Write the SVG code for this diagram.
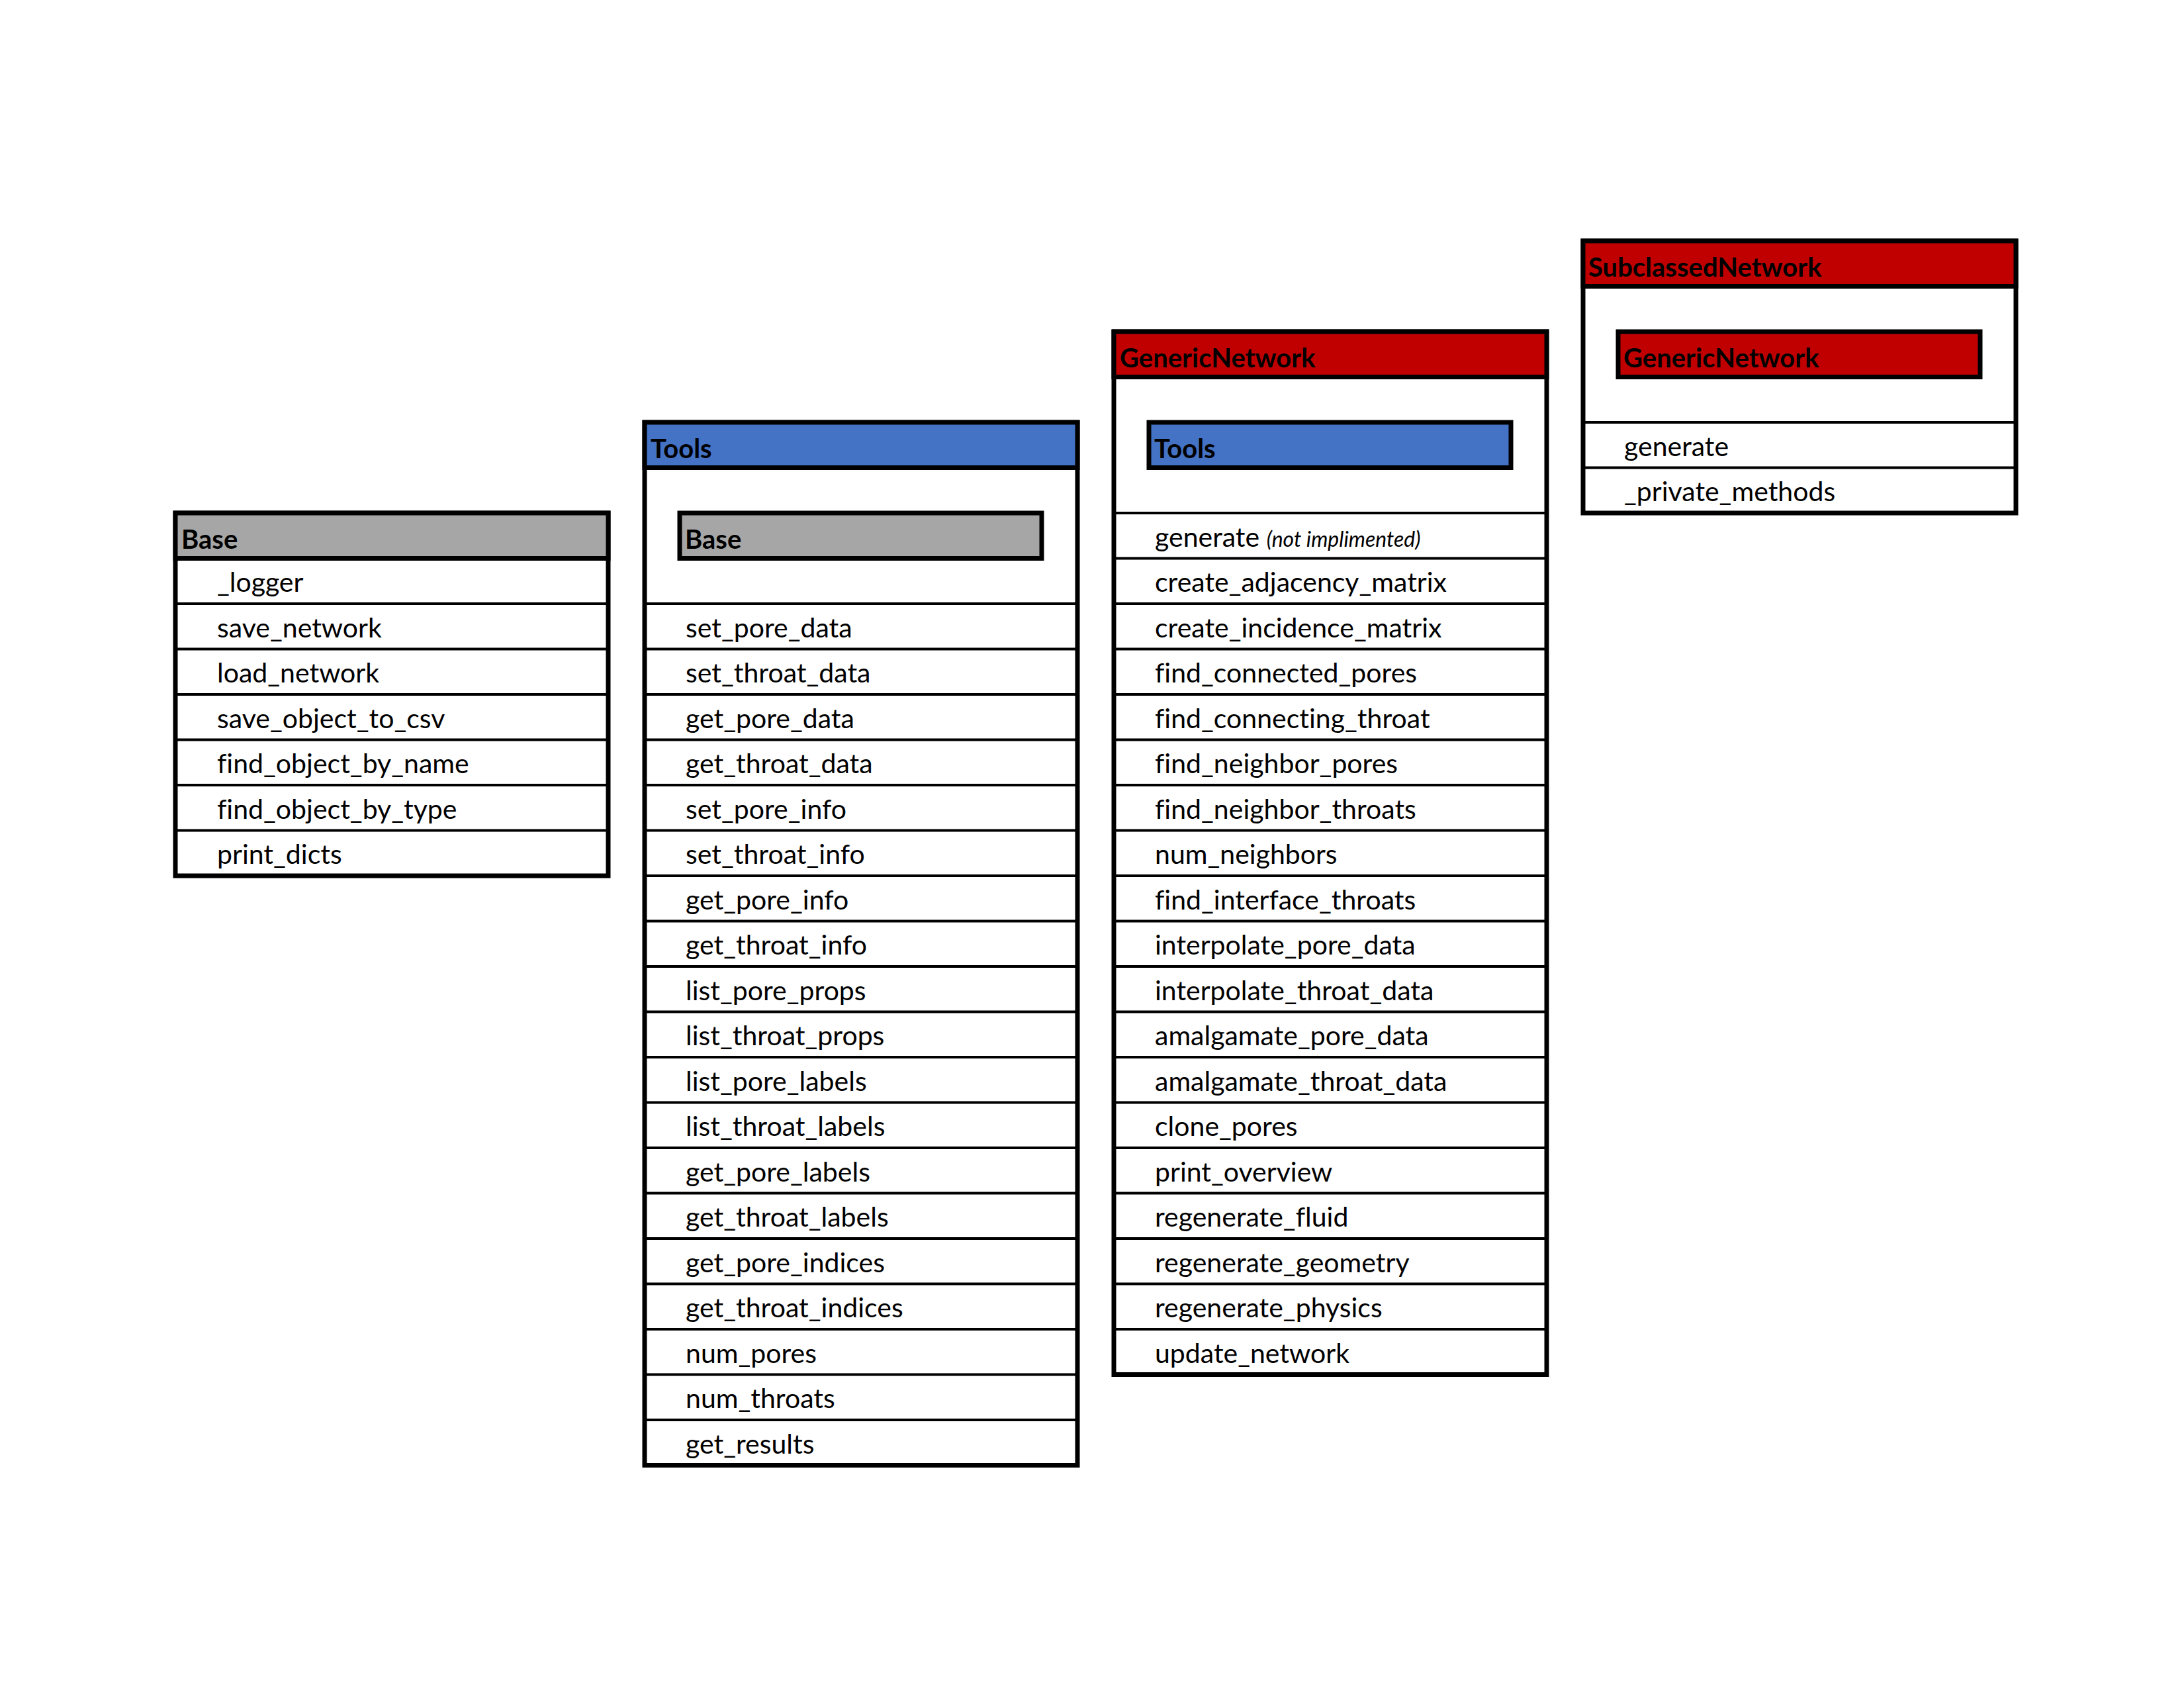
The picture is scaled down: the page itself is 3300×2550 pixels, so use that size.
<svg xmlns="http://www.w3.org/2000/svg" width="3300" height="2550" viewBox="0 0 3300 2550">
<style>
.bg{fill:#ffffff}
.box{fill:#ffffff;stroke:#000;stroke-width:7}
.hgray{fill:#A6A6A6;stroke:#000;stroke-width:7}
.hblue{fill:#4472C4;stroke:#000;stroke-width:7}
.hred{fill:#C00000;stroke:#000;stroke-width:7}
.sep{stroke:#000;stroke-width:4}
text{font-variant-ligatures:none}
.t{font-family:Lato,"Liberation Sans",sans-serif;font-size:41px;fill:#000}
.h{font-family:Lato,"Liberation Sans",sans-serif;font-size:40px;font-weight:bold;fill:#000}
.i{font-style:italic;font-size:32px}
</style>
<rect class="bg" x="0" y="0" width="3300" height="2550"/>

<g id="node-base">
<rect class="box" x="265" y="775" width="654" height="548"/>
<rect class="hgray" x="265" y="775" width="654" height="68.5"/>
<line class="sep" x1="265" y1="912" x2="919" y2="912"/>
<line class="sep" x1="265" y1="980.5" x2="919" y2="980.5"/>
<line class="sep" x1="265" y1="1049" x2="919" y2="1049"/>
<line class="sep" x1="265" y1="1117.5" x2="919" y2="1117.5"/>
<line class="sep" x1="265" y1="1186" x2="919" y2="1186"/>
<line class="sep" x1="265" y1="1254.5" x2="919" y2="1254.5"/>
<text class="h" x="274" y="829">Base</text>
<text class="t" x="328" y="894">_logger</text>
<text class="t" x="328" y="963">save_network</text>
<text class="t" x="328" y="1031">load_network</text>
<text class="t" x="328" y="1100">save_object_to_csv</text>
<text class="t" x="328" y="1168">find_object_by_name</text>
<text class="t" x="328" y="1237">find_object_by_type</text>
<text class="t" x="328" y="1305">print_dicts</text>
</g>

<g id="node-tools">
<rect class="box" x="974" y="638" width="654" height="1575.5"/>
<rect class="hblue" x="974" y="638" width="654" height="68.5"/>
<rect class="hgray" x="1027" y="775" width="547" height="68.5"/>
<text class="h" x="1035" y="829">Base</text>
<line class="sep" x1="974" y1="912" x2="1628" y2="912"/>
<line class="sep" x1="974" y1="980.5" x2="1628" y2="980.5"/>
<line class="sep" x1="974" y1="1049" x2="1628" y2="1049"/>
<line class="sep" x1="974" y1="1117.5" x2="1628" y2="1117.5"/>
<line class="sep" x1="974" y1="1186" x2="1628" y2="1186"/>
<line class="sep" x1="974" y1="1254.5" x2="1628" y2="1254.5"/>
<line class="sep" x1="974" y1="1323" x2="1628" y2="1323"/>
<line class="sep" x1="974" y1="1391.5" x2="1628" y2="1391.5"/>
<line class="sep" x1="974" y1="1460" x2="1628" y2="1460"/>
<line class="sep" x1="974" y1="1528.5" x2="1628" y2="1528.5"/>
<line class="sep" x1="974" y1="1597" x2="1628" y2="1597"/>
<line class="sep" x1="974" y1="1665.5" x2="1628" y2="1665.5"/>
<line class="sep" x1="974" y1="1734" x2="1628" y2="1734"/>
<line class="sep" x1="974" y1="1802.5" x2="1628" y2="1802.5"/>
<line class="sep" x1="974" y1="1871" x2="1628" y2="1871"/>
<line class="sep" x1="974" y1="1939.5" x2="1628" y2="1939.5"/>
<line class="sep" x1="974" y1="2008" x2="1628" y2="2008"/>
<line class="sep" x1="974" y1="2076.5" x2="1628" y2="2076.5"/>
<line class="sep" x1="974" y1="2145" x2="1628" y2="2145"/>
<text class="h" x="983" y="692">Tools</text>
<text class="t" x="1036" y="963">set_pore_data</text>
<text class="t" x="1036" y="1031">set_throat_data</text>
<text class="t" x="1036" y="1100">get_pore_data</text>
<text class="t" x="1036" y="1168">get_throat_data</text>
<text class="t" x="1036" y="1237">set_pore_info</text>
<text class="t" x="1036" y="1305">set_throat_info</text>
<text class="t" x="1036" y="1374">get_pore_info</text>
<text class="t" x="1036" y="1442">get_throat_info</text>
<text class="t" x="1036" y="1511">list_pore_props</text>
<text class="t" x="1036" y="1579">list_throat_props</text>
<text class="t" x="1036" y="1648">list_pore_labels</text>
<text class="t" x="1036" y="1716">list_throat_labels</text>
<text class="t" x="1036" y="1785">get_pore_labels</text>
<text class="t" x="1036" y="1853">get_throat_labels</text>
<text class="t" x="1036" y="1922">get_pore_indices</text>
<text class="t" x="1036" y="1990">get_throat_indices</text>
<text class="t" x="1036" y="2059">num_pores</text>
<text class="t" x="1036" y="2127">num_throats</text>
<text class="t" x="1036" y="2196">get_results</text>
</g>

<g id="node-genericnetwork">
<rect class="box" x="1683" y="501" width="654" height="1575.5"/>
<rect class="hred" x="1683" y="501" width="654" height="68.5"/>
<rect class="hblue" x="1736" y="638" width="547" height="68.5"/>
<text class="h" x="1744" y="692">Tools</text>
<line class="sep" x1="1683" y1="775" x2="2337" y2="775"/>
<line class="sep" x1="1683" y1="843.5" x2="2337" y2="843.5"/>
<line class="sep" x1="1683" y1="912" x2="2337" y2="912"/>
<line class="sep" x1="1683" y1="980.5" x2="2337" y2="980.5"/>
<line class="sep" x1="1683" y1="1049" x2="2337" y2="1049"/>
<line class="sep" x1="1683" y1="1117.5" x2="2337" y2="1117.5"/>
<line class="sep" x1="1683" y1="1186" x2="2337" y2="1186"/>
<line class="sep" x1="1683" y1="1254.5" x2="2337" y2="1254.5"/>
<line class="sep" x1="1683" y1="1323" x2="2337" y2="1323"/>
<line class="sep" x1="1683" y1="1391.5" x2="2337" y2="1391.5"/>
<line class="sep" x1="1683" y1="1460" x2="2337" y2="1460"/>
<line class="sep" x1="1683" y1="1528.5" x2="2337" y2="1528.5"/>
<line class="sep" x1="1683" y1="1597" x2="2337" y2="1597"/>
<line class="sep" x1="1683" y1="1665.5" x2="2337" y2="1665.5"/>
<line class="sep" x1="1683" y1="1734" x2="2337" y2="1734"/>
<line class="sep" x1="1683" y1="1802.5" x2="2337" y2="1802.5"/>
<line class="sep" x1="1683" y1="1871" x2="2337" y2="1871"/>
<line class="sep" x1="1683" y1="1939.5" x2="2337" y2="1939.5"/>
<line class="sep" x1="1683" y1="2008" x2="2337" y2="2008"/>
<text class="h" x="1692" y="555">GenericNetwork</text>
<text class="t" x="1745" y="826">generate <tspan class="i">(not implimented)</tspan></text>
<text class="t" x="1745" y="894">create_adjacency_matrix</text>
<text class="t" x="1745" y="963">create_incidence_matrix</text>
<text class="t" x="1745" y="1031">find_connected_pores</text>
<text class="t" x="1745" y="1100">find_connecting_throat</text>
<text class="t" x="1745" y="1168">find_neighbor_pores</text>
<text class="t" x="1745" y="1237">find_neighbor_throats</text>
<text class="t" x="1745" y="1305">num_neighbors</text>
<text class="t" x="1745" y="1374">find_interface_throats</text>
<text class="t" x="1745" y="1442">interpolate_pore_data</text>
<text class="t" x="1745" y="1511">interpolate_throat_data</text>
<text class="t" x="1745" y="1579">amalgamate_pore_data</text>
<text class="t" x="1745" y="1648">amalgamate_throat_data</text>
<text class="t" x="1745" y="1716">clone_pores</text>
<text class="t" x="1745" y="1785">print_overview</text>
<text class="t" x="1745" y="1853">regenerate_fluid</text>
<text class="t" x="1745" y="1922">regenerate_geometry</text>
<text class="t" x="1745" y="1990">regenerate_physics</text>
<text class="t" x="1745" y="2059">update_network</text>
</g>

<g id="node-subclassednetwork">
<rect class="box" x="2392" y="364" width="654" height="411"/>
<rect class="hred" x="2392" y="364" width="654" height="68.5"/>
<rect class="hred" x="2445" y="501" width="547" height="68.5"/>
<text class="h" x="2453" y="555">GenericNetwork</text>
<line class="sep" x1="2392" y1="638" x2="3046" y2="638"/>
<line class="sep" x1="2392" y1="706.5" x2="3046" y2="706.5"/>
<text class="h" x="2400" y="418">SubclassedNetwork</text>
<text class="t" x="2454" y="689">generate</text>
<text class="t" x="2454" y="757">_private_methods</text>
</g>

<g id="connectors"></g>
</svg>
